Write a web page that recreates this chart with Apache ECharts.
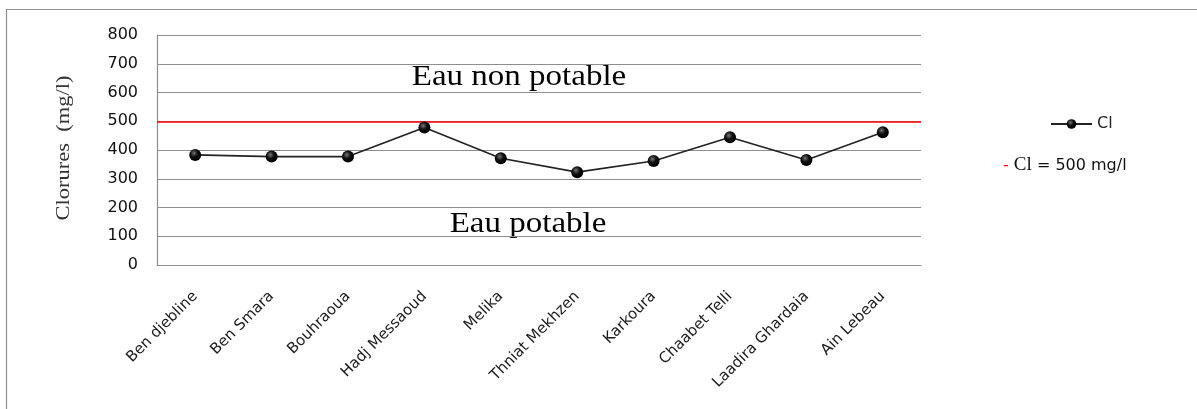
<!DOCTYPE html>
<html>
<head>
<meta charset="utf-8">
<script src="https://cdn.jsdelivr.net/npm/echarts@6/dist/echarts.min.js"></script>
<style>
html,body{margin:0;padding:0;background:#fff;}
#chart{width:1197px;height:409px;}
</style>
</head>
<body>
<div id="chart"></div>
<script>
const categories = ['Ben djebline','Ben Smara','Bouhraoua','Hadj Messaoud','Melika','Thniat Mekhzen','Karkoura','Chaabet Telli','Laadira Ghardaia','Ain Lebeau'];
const clValues = [383, 377, 377, 478, 371, 323, 362, 444, 365, 462];
const threshold = [500];
const yTicks = [0, 100, 200, 300, 400, 500, 600, 700, 800];
const seriesNames = ['Cl', 'Cl = 500 mg/l'];
const zoneLabels = ['Eau non potable', 'Eau potable'];
const yTitle = 'Clorures  (mg/l)';

const chart = echarts.init(document.getElementById('chart'), null, {renderer:'canvas'});
const gridColor = '#8e8e8e';
const option = {
  animation: false,
  backgroundColor: '#ffffff',
  grid: {left: 157, top: 35, width: 764, height: 230, containLabel: false},
  xAxis: {
    type: 'category',
    data: categories,
    boundaryGap: true,
    axisLine: {show: true, lineStyle: {color: gridColor, width: 1.2}},
    axisTick: {show: false},
    axisLabel: {interval: 0, rotate: 45, margin: 29, fontFamily: 'DejaVu Sans', fontSize: 15, color: '#1a1a1a'},
    splitLine: {show: false}
  },
  yAxis: {
    type: 'value',
    min: yTicks[0], max: yTicks[yTicks.length-1], interval: 100,
    axisLine: {show: true, lineStyle: {color: gridColor, width: 1.2}},
    axisTick: {show: false},
    axisLabel: {margin: 19, fontFamily: 'DejaVu Sans', fontSize: 16, color: '#111'},
    splitLine: {show: true, lineStyle: {color: gridColor, width: 1.2}}
  },
  legend: [
    {
      data: [seriesNames[0]],
      left: 1045, top: 111,
      itemWidth: 41, itemHeight: 12,
      textStyle: {fontFamily: 'DejaVu Sans', fontSize: 16, color: '#222'},
      selectedMode: false
    },
    {
      data: [{name: seriesNames[1], icon: 'none'}],
      left: 993, top: 151,
      itemWidth: 0, itemHeight: 12, itemGap: 0,
      selectedMode: false,
      formatter: function(n){ return '{d|- }{a|Cl}{b| = 500 mg/l}'; },
      textStyle: {
        rich: {
          d: {color: '#ff0000', fontFamily: 'DejaVu Sans', fontSize: 16},
          a: {color: '#111', fontFamily: 'Liberation Serif', fontSize: 19},
          b: {color: '#111', fontFamily: 'DejaVu Sans', fontSize: 16}
        }
      }
    }
  ],
  series: [
    {
      name: seriesNames[1],
      type: 'line',
      data: [],
      itemStyle: {color: '#ff0000'},
      markLine: {
        silent: true,
        symbol: 'none',
        label: {show: false},
        lineStyle: {color: '#ff0000', width: 1.5, type: 'solid'},
        data: threshold.map(v => ({yAxis: v}))
      },
      z: 3
    },
    {
      name: seriesNames[0],
      type: 'line',
      data: clValues,
      symbol: 'circle',
      symbolSize: 12,
      lineStyle: {color: '#222', width: 1.6},
      itemStyle: {
        color: new echarts.graphic.RadialGradient(0.4, 0.35, 0.6, [
          {offset: 0, color: '#777'},
          {offset: 0.5, color: '#111'},
          {offset: 1, color: '#000'}
        ])
      },
      z: 5
    }
  ],
  graphic: [
    {
      type: 'rect', silent: true, z: -1,
      shape: {x: 6.5, y: 9.5, width: 1300, height: 500},
      style: {fill: 'none', stroke: '#8e8e8e', lineWidth: 1.2}
    },
    {
      type: 'text', x: 519, y: 77, scaleX: 1.1, silent: true,
      style: {text: zoneLabels[0], x: 0, y: 0, align: 'center', verticalAlign: 'middle',
              font: '30px "Liberation Serif"', fill: '#000'}
    },
    {
      type: 'text', x: 528, y: 224, scaleX: 1.1, silent: true,
      style: {text: zoneLabels[1], x: 0, y: 0, align: 'center', verticalAlign: 'middle',
              font: '30px "Liberation Serif"', fill: '#000'}
    },
    {
      type: 'text', x: 64, y: 148, rotation: Math.PI/2, scaleX: 1.25, silent: true,
      style: {text: yTitle, x: 0, y: 0, align: 'center', verticalAlign: 'middle',
              font: '18px "Liberation Serif"', fill: '#333'}
    }
  ]
};
chart.setOption(option);
</script>
</body>
</html>
